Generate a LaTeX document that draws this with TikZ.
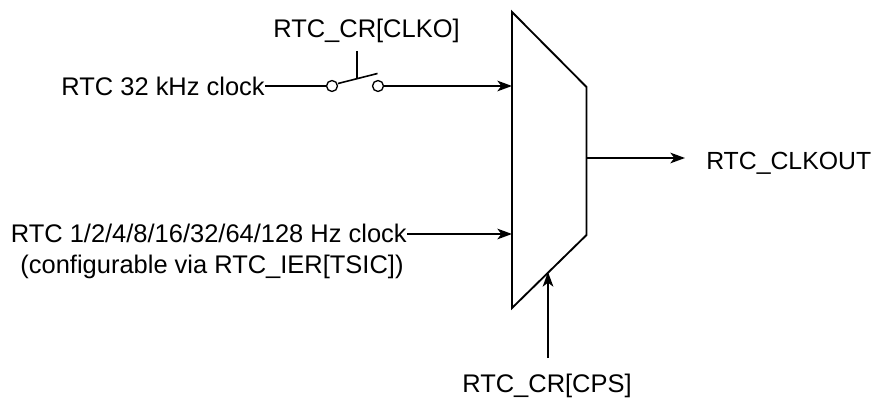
\documentclass[tikz,border=0pt]{standalone}
\usepackage{fontspec}
\setmainfont{Liberation Sans}
\usetikzlibrary{arrows.meta}
\tikzset{
  x=0.75pt,y=-0.75pt,
  wire/.style={line width=1.2pt,-{Stealth[length=11pt,width=8pt,inset=3pt]}},
  plain/.style={line width=1.2pt},
  mux/.style={line width=1.4pt,line join=miter},
  lab/.style={inner sep=0pt,font=\fontsize{19.1pt}{24pt}\selectfont},
  contact/.style={circle,draw,line width=1pt,minimum size=8.2pt,inner sep=0pt}
}
\begin{document}
\begin{tikzpicture}
\useasboundingbox (0,0) rectangle (873,402);
\draw[mux] (512,12) -- (586.5,87) -- (586.5,235) -- (512,308) -- cycle;
\coordinate (muxin1) at (512,86);
\coordinate (muxin2) at (512,234);
\coordinate (muxout) at (586.5,158);
\coordinate (muxsel) at (548,272);
\node[lab,anchor=east] (clk32) at (265,86) {RTC 32 kHz clock};
\node[lab,anchor=east] (clkhz) at (407,233) {RTC 1/2/4/8/16/32/64/128 Hz clock};
\node[lab] (clkcfg) at (212,267) {(configurable via RTC\_IER[TSIC])};
\node[lab] (clko) at (366.5,31) {RTC\_CR[CLKO]};
\node[lab] (cps) at (547,386) {RTC\_CR[CPS]};
\node[lab,anchor=west,font=\fontsize{18.6pt}{24pt}\selectfont] (out) at (706,163) {RTC\_CLKOUT};
\coordinate (outE) at (685,158);
\coordinate (cpsN) at (548,358);
\node[contact] (sw1) at (332,86) {};
\node[contact] (sw2) at (378,86) {};
\coordinate (leverstart) at (338,83.5);
\coordinate (leverend) at (377.5,73.5);
\coordinate (ctrltop) at (357,51);
\coordinate (ctrlbot) at (357,79);
\draw[plain] (clk32.east) -- (sw1.west);
\draw[plain] (leverstart) -- (leverend);
\draw[plain] (ctrltop) -- (ctrlbot);
\draw[wire] (sw2.east) -- (muxin1);
\draw[wire] (clkhz.east |- muxin2) -- (muxin2);
\draw[wire] (muxout) -- (outE);
\draw[wire] (cpsN) -- (muxsel);
\end{tikzpicture}
\end{document}
